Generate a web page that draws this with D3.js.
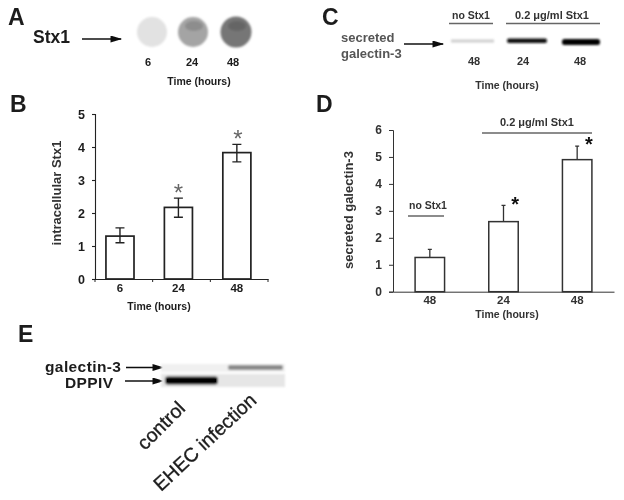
<!DOCTYPE html>
<html><head><meta charset="utf-8">
<style>html,body{margin:0;padding:0;background:#fff}svg{display:block}text{font-family:"Liberation Sans",Arial,sans-serif;fill:#1c1c1c}</style>
<script src="https://cdn.jsdelivr.net/npm/d3@7"></script></head>
<body><svg id="c" width="624" height="500"></svg>
<script>
const timesB = ["6","24","48"];
const valuesB = [1.3,2.17,3.83];
const errTopB = [1.55,2.45,4.08];
const errLowB = [1.1,1.87,3.55];
const starsB = [false,true,true];
const ticksB = [0,1,2,3,4,5];
const timesD = ["48","24","48"];
const idsD = ["no1","s24","s48"];
const valuesD = [1.27,2.6,4.9];
const errTopD = [1.57,3.2,5.4];
const starsD = [false,true,true];
const ticksD = [0,1,2,3,4,5,6];
const spotTimes = ["6","24","48"];
const spotGrays = ["#e2e2e2","#a4a4a4","#767676"];

const svg = d3.select("#c");
const defs = svg.append("defs");
const blur = (id,s)=>defs.append("filter").attr("id",id).attr("x","-30%").attr("y","-60%").attr("width","160%").attr("height","220%").append("feGaussianBlur").attr("stdDeviation",s);
blur("b0",0.5); blur("b1",1.1); blur("b2",0.9);
const arrowM = defs.append("marker").attr("id","arr").attr("viewBox","0 0 10 6").attr("refX",9).attr("refY",3)
  .attr("markerUnits","userSpaceOnUse").attr("markerWidth",13).attr("markerHeight",7).attr("orient","auto");
arrowM.append("path").attr("d","M0,0L10,3L0,6Z").attr("fill","#111");
const root = svg.append("g").attr("filter","url(#b0)");

function txt(x,y,s,size,o={}){
  const t = root.append("text").attr("x",x).attr("y",y).text(s).attr("font-size",size)
    .attr("font-weight",o.w||"bold").attr("text-anchor",o.a||"middle");
  if(o.fill) t.style("fill",o.fill);
  if(o.ls) t.attr("letter-spacing",o.ls);
  if(o.rot!=null) t.attr("transform",`rotate(${o.rot} ${x} ${y})`);
  return t;
}
function arrow(x1,x2,y){root.append("line").attr("x1",x1).attr("x2",x2).attr("y1",y).attr("y2",y).attr("stroke","#111").attr("stroke-width",1.4).attr("marker-end","url(#arr)");}
function rule(x1,x2,y,c){root.append("line").attr("x1",x1).attr("x2",x2).attr("y1",y).attr("y2",y).attr("stroke",c||"#666").attr("stroke-width",1.3);}

// Panel letters
txt(8,25,"A",23,{a:"start"});
txt(322,25,"C",23,{a:"start"});
txt(10,112,"B",23,{a:"start"});
txt(316,112,"D",23,{a:"start"});
txt(18,342,"E",23,{a:"start"});

// Panel A
txt(33,43,"Stx1",17.5,{a:"start"});
arrow(82,121,39);
const spotX = d3.scaleOrdinal().domain(spotTimes).range([152,193,236]);
const labX = d3.scaleOrdinal().domain(spotTimes).range([148,192,233]);
svg.append("g").attr("filter","url(#b1)").selectAll("circle").data(spotTimes).join("circle")
  .attr("cx",d=>spotX(d)).attr("cy",32).attr("r",(d,i)=>i==2?15.5:15).attr("fill",(d,i)=>spotGrays[i]);
svg.append("g").attr("filter","url(#b1)").selectAll("ellipse").data(spotTimes.slice(1)).join("ellipse")
  .attr("cx",d=>spotX(d)+1).attr("cy",26).attr("rx",9).attr("ry",5).attr("fill","#000").attr("opacity",.14);
spotTimes.forEach(d=>txt(labX(d),66,d,11));
txt(199,85,"Time (hours)",10.5);

// Panel C
txt(341,42,"secreted",13,{a:"start",fill:"#555"});
txt(341,58,"galectin-3",13,{a:"start",fill:"#555"});
arrow(404,443,44);
txt(471,19,"no Stx1",10.5,{fill:"#333"});
rule(449,493,23.5);
txt(552,19,"0.2 μg/ml Stx1",11,{fill:"#333"});
rule(506,600,23.5);
const blotC = svg.append("g").attr("filter","url(#b2)");
blotC.append("rect").attr("x",451).attr("y",39.5).attr("width",43).attr("height",3).attr("fill","#cfcfcf");
blotC.append("rect").attr("x",507).attr("y",38.5).attr("width",40).attr("height",4.5).attr("rx",2).attr("fill","#111");
blotC.append("rect").attr("x",562).attr("y",39).attr("width",38).attr("height",6).attr("rx",2.5).attr("fill","#000");
txt(474,65,"48",11,{fill:"#333"}); txt(523,65,"24",11,{fill:"#333"}); txt(580,65,"48",11,{fill:"#333"});
txt(507,89,"Time (hours)",10.5,{fill:"#333"});

// Panel B
const xB = d3.scaleBand().domain(d3.range(timesB.length)).range([95,268]).paddingInner(.52).paddingOuter(.24).align(.39);
const yB = d3.scaleLinear().domain([0,5]).range([279,114]);
const gB = root.append("g");
gB.selectAll("rect").data(valuesB).join("rect").attr("x",(d,i)=>xB(i)).attr("width",xB.bandwidth())
  .attr("y",d=>yB(d)).attr("height",d=>yB(0)-yB(d)).attr("fill","#fff").attr("stroke","#222").attr("stroke-width",1.7);
gB.selectAll("path.e").data(valuesB).join("path").attr("class","e").attr("fill","none").attr("stroke","#222").attr("stroke-width",1.4)
  .attr("d",(d,i)=>{const c=xB(i)+xB.bandwidth()/2;return `M${c-4.5},${yB(errTopB[i])}H${c+4.5}M${c},${yB(errTopB[i])}V${yB(errLowB[i])}M${c-4.5},${yB(errLowB[i])}H${c+4.5}`;});
gB.append("g").attr("transform","translate(95,0)").call(d3.axisLeft(yB).tickValues(ticksB).tickSize(3).tickFormat(d3.format("d")))
  .call(g=>{g.selectAll("path,line").attr("stroke","#222").attr("stroke-width",1.1);g.selectAll("text").attr("font-size",12.5).attr("font-weight","bold").attr("dx",-4);});
gB.append("g").attr("transform","translate(0,279)").call(d3.axisBottom(xB).tickSize(0).tickFormat(i=>timesB[i]))
  .call(g=>{g.select("path").attr("stroke","#222").attr("stroke-width",1.1);g.selectAll("text").attr("font-size",11.5).attr("font-weight","bold").attr("dy",10);});
gB.selectAll("line.d").data(d3.range(timesB.length+1)).join("line").attr("class","d")
  .attr("x1",i=>95+i*(268-95)/3).attr("x2",i=>95+i*(268-95)/3).attr("y1",279).attr("y2",282).attr("stroke","#222");
txt(61,193,"intracellular Stx1",13,{rot:-90,fill:"#333"});
txt(159,310,"Time (hours)",10.5);
valuesB.forEach((d,i)=>{ if(starsB[i]) txt(xB(i)+xB.bandwidth()/2+(i==2?1:0),yB(errTopB[i])+3,"*",24,{w:"normal",fill:"#666"}); });

// Panel D
const xD = d3.scaleBand().domain(idsD).range([393,614]).paddingInner(.6).paddingOuter(.3);
const yD = d3.scaleLinear().domain([0,6]).range([291.7,130]);
const gD = root.append("g");
gD.selectAll("path.e").data(valuesD).join("path").attr("class","e").attr("fill","none").attr("stroke","#333").attr("stroke-width",1.3)
  .attr("d",(d,i)=>{const c=xD(idsD[i])+xD.bandwidth()/2;return `M${c-2},${yD(errTopD[i])}H${c+2}M${c},${yD(errTopD[i])}V${yD(d)}`;});
gD.selectAll("rect").data(valuesD).join("rect").attr("x",(d,i)=>xD(idsD[i])).attr("width",xD.bandwidth())
  .attr("y",d=>yD(d)).attr("height",d=>yD(0)-yD(d)).attr("fill","#fff").attr("stroke","#333").attr("stroke-width",1.5);
gD.append("g").attr("transform","translate(393,0)").call(d3.axisLeft(yD).tickValues(ticksD).tickSize(4).tickFormat(d3.format("d")))
  .call(g=>{g.selectAll("path,line").attr("stroke","#333").attr("stroke-width",1);g.selectAll("text").attr("font-size",12).attr("font-weight","bold").attr("dx",-4).style("fill","#333");});
gD.append("g").attr("transform","translate(0,291.7)").call(d3.axisBottom(xD).tickSize(0).tickFormat((d,i)=>timesD[i]))
  .call(g=>{g.select("path").attr("stroke","#333").attr("stroke-width",1);g.selectAll("text").attr("font-size",11.5).attr("font-weight","bold").attr("dy",9).style("fill","#333");});
txt(353,210,"secreted galectin-3",13,{rot:-90,fill:"#333"});
txt(507,318,"Time (hours)",10.5,{fill:"#333"});
txt(428,209,"no Stx1",10.5,{fill:"#333"}); rule(408,444,216);
txt(537,126,"0.2 μg/ml Stx1",11,{fill:"#333"}); rule(482,592,133);
valuesD.forEach((d,i)=>{ if(starsD[i]) txt(xD(idsD[i])+xD.bandwidth()+(i==1?-3:-3),yD(errTopD[i])+(i==1?6:5),"*",20,{fill:"#111"}); });

// Panel E
txt(45,372,"galectin-3",15.5,{a:"start",ls:.4});
txt(65,388,"DPPIV",15.5,{a:"start",ls:.4});
arrow(126,163,367.5);
arrow(125,163,381);
const blotE = svg.append("g").attr("filter","url(#b2)");
blotE.append("rect").attr("x",161).attr("y",364).attr("width",124).attr("height",8).attr("fill","#f0f0f0");
blotE.append("rect").attr("x",228).attr("y",365).attr("width",55).attr("height",5).attr("rx",2).attr("fill","#8a8a8a");
blotE.append("rect").attr("x",161).attr("y",374).attr("width",124).attr("height",13).attr("fill","#e6e6e6");
blotE.append("rect").attr("x",165).attr("y",376.5).attr("width",53).attr("height",8).attr("rx",3).attr("fill","#000");
txt(145,451,"control",19.5,{a:"start",w:"normal",rot:-45}).attr("stroke","#1c1c1c").attr("stroke-width",.35);
txt(161,492,"EHEC infection",19.5,{a:"start",w:"normal",rot:-43}).attr("stroke","#1c1c1c").attr("stroke-width",.35);
</script></body></html>
